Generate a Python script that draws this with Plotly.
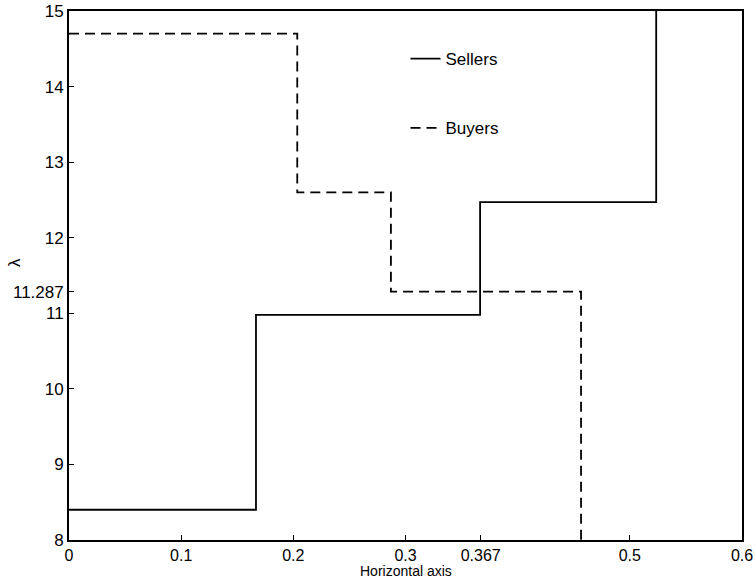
import plotly.graph_objects as go

# Step-function supply (sellers) and demand (buyers) schedules
sellers_x = [0.0, 0.1667, 0.1667, 0.3665, 0.3665, 0.5235, 0.5235]
sellers_y = [8.4, 8.4, 10.98, 10.98, 12.47, 12.47, 15.0]

buyers_x = [0.0, 0.2035, 0.2035, 0.2870, 0.2870, 0.4565, 0.4565]
buyers_y = [14.7, 14.7, 12.6, 12.6, 11.287, 11.287, 8.0]

x_ticks = [0, 0.1, 0.2, 0.3, 0.367, 0.5, 0.6]
x_tick_text = ["0", "0.1", "0.2", "0.3", "0.367", "0.5", "0.6"]
y_ticks = [8, 9, 10, 11, 11.287, 12, 13, 14, 15]
y_tick_text = ["8", "9", "10", "11", "11.287", "12", "13", "14", "15"]

FONT = "Liberation Sans, Arial, sans-serif"

fig = go.Figure()
fig.add_trace(go.Scatter(
    x=sellers_x, y=sellers_y, mode="lines", name="Sellers",
    line=dict(color="black", width=1.8), legendgroup="s",
))
fig.add_trace(go.Scatter(
    x=buyers_x, y=buyers_y, mode="lines", name="Buyers",
    line=dict(color="black", width=1.8, dash="10px,6px"), legendgroup="b",
))

fig.update_layout(
    width=756, height=579,
    margin=dict(l=69, r=14, t=11, b=39),
    paper_bgcolor="white", plot_bgcolor="white",
    font=dict(family=FONT, size=17, color="black"),
    legend=dict(
        x=0.5, y=0.943, xanchor="left", yanchor="top",
        bgcolor="rgba(0,0,0,0)", tracegroupgap=44,
        font=dict(size=17),
    ),
    xaxis=dict(
        range=[0, 0.6], tickvals=x_ticks, ticktext=x_tick_text,
        ticks="inside", ticklen=5, tickcolor="black", tickwidth=1,
        showline=True, linecolor="black", linewidth=1.8, mirror=True,
        showgrid=False, zeroline=False, automargin=False,
        tickfont=dict(size=16),
    ),
    yaxis=dict(
        range=[8, 15], tickvals=y_ticks, ticktext=y_tick_text,
        ticks="inside", ticklen=5, tickcolor="black", tickwidth=1,
        showline=True, linecolor="black", linewidth=1.8, mirror=True,
        showgrid=False, zeroline=False, automargin=False,
        tickfont=dict(size=17),
    ),
    annotations=[
        dict(text="Horizontal axis", xref="paper", yref="paper",
             x=0.5, y=-0.0585, xanchor="center", yanchor="middle",
             showarrow=False, font=dict(size=14)),
        dict(text="λ", xref="paper", yref="paper",
             x=-0.082, y=0.525, xanchor="center", yanchor="middle",
             textangle=-90, showarrow=False, font=dict(size=17)),
    ],
)

fig.write_html("out.html")
